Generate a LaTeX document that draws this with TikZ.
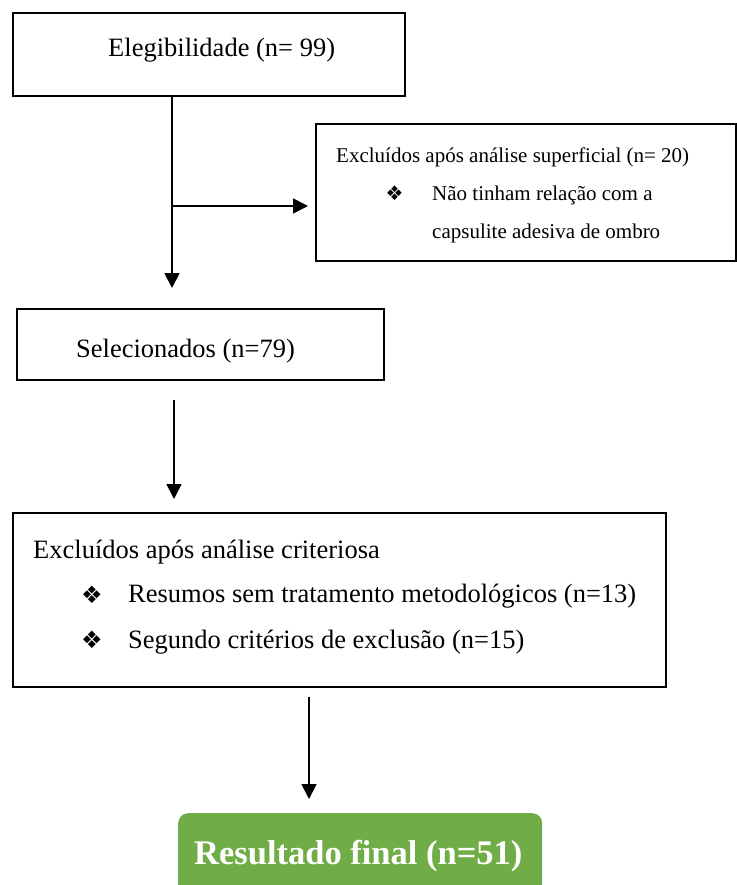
\documentclass[tikz,border=0pt]{standalone}
\usepackage{fontspec}
\setmainfont{Liberation Serif}
\newfontfamily\dejavu{DejaVu Sans}
\usetikzlibrary{arrows.meta}
\definecolor{resgreen}{HTML}{70AD47}
\begin{document}
\begin{tikzpicture}[x=1pt,y=-1pt,
  box/.style={draw, line width=1.6pt, inner sep=0pt, anchor=north west},
  conn/.style={line width=1.8pt, -{Triangle[length=15pt,width=15pt]}},
  txt/.style={anchor=base west, inner sep=0pt, font=\fontsize{26.5}{32}\selectfont},
  small/.style={anchor=base west, inner sep=0pt, font=\fontsize{21}{25}\selectfont},
  bul/.style={anchor=center, inner sep=0pt, font=\dejavu\fontsize{24}{24}\selectfont},
  sbul/.style={anchor=center, inner sep=0pt, font=\dejavu\fontsize{20}{20}\selectfont},
  resbox/.style={fill=resgreen, rounded corners=10pt, inner sep=0pt, anchor=north west},
  restxt/.style={anchor=base west, inner sep=0pt, text=white, font=\bfseries\fontsize{34.5}{40}\selectfont}]
\useasboundingbox (0,0) rectangle (736,885);
% boxes
\node[box, minimum width=392pt, minimum height=83pt] (b1) at (12,12) {};
\node[box, minimum width=420pt, minimum height=137pt] (b2) at (315,123) {};
\node[box, minimum width=367pt, minimum height=71pt] (b3) at (16,308) {};
\node[box, minimum width=653pt, minimum height=174pt] (b4) at (12,512) {};
\node[resbox, minimum width=364pt, minimum height=85pt] (b5) at (178,813) {};
% texts
\node[txt] (t1) at (108,57) {Elegibilidade (n= 99)};
\node[small] (t2a) at (336,163) {Excluídos após análise superficial (n= 20)};
\node[sbul] (t2b) at (394.5,193.5) {❖};
\node[small] (t2c) at (432,201) {Não tinham relação com a};
\node[small] (t2d) at (432,239) {capsulite adesiva de ombro};
\node[txt] (t3) at (76,357) {Selecionados (n=79)};
\node[txt] (t4a) at (33,558) {Excluídos após análise criteriosa};
\node[bul] (t4b) at (92,595) {❖};
\node[txt] (t4c) at (128,602) {Resumos sem tratamento metodológicos (n=13)};
\node[bul] (t4d) at (92,640) {❖};
\node[txt] (t4e) at (128,648) {Segundo critérios de exclusão (n=15)};
\node[restxt] (t5) at (194,864) {Resultado final (n=51)};
% connectors
\coordinate (c1) at (172,288);
\coordinate (br) at (172,206);
\coordinate (c2) at (174,400);
\coordinate (c2e) at (174,499);
\coordinate (c3) at (309,697);
\coordinate (c3e) at (309,799);
\draw[line width=1.8pt] (b1.south -| c1) -- (br);
\draw[conn] (br) -- (c1);
\draw[conn, shorten >=7pt] (br) -- (b2.west |- br);
\draw[conn] (c2) -- (c2e);
\draw[conn] (c3) -- (c3e);
\end{tikzpicture}
\end{document}
